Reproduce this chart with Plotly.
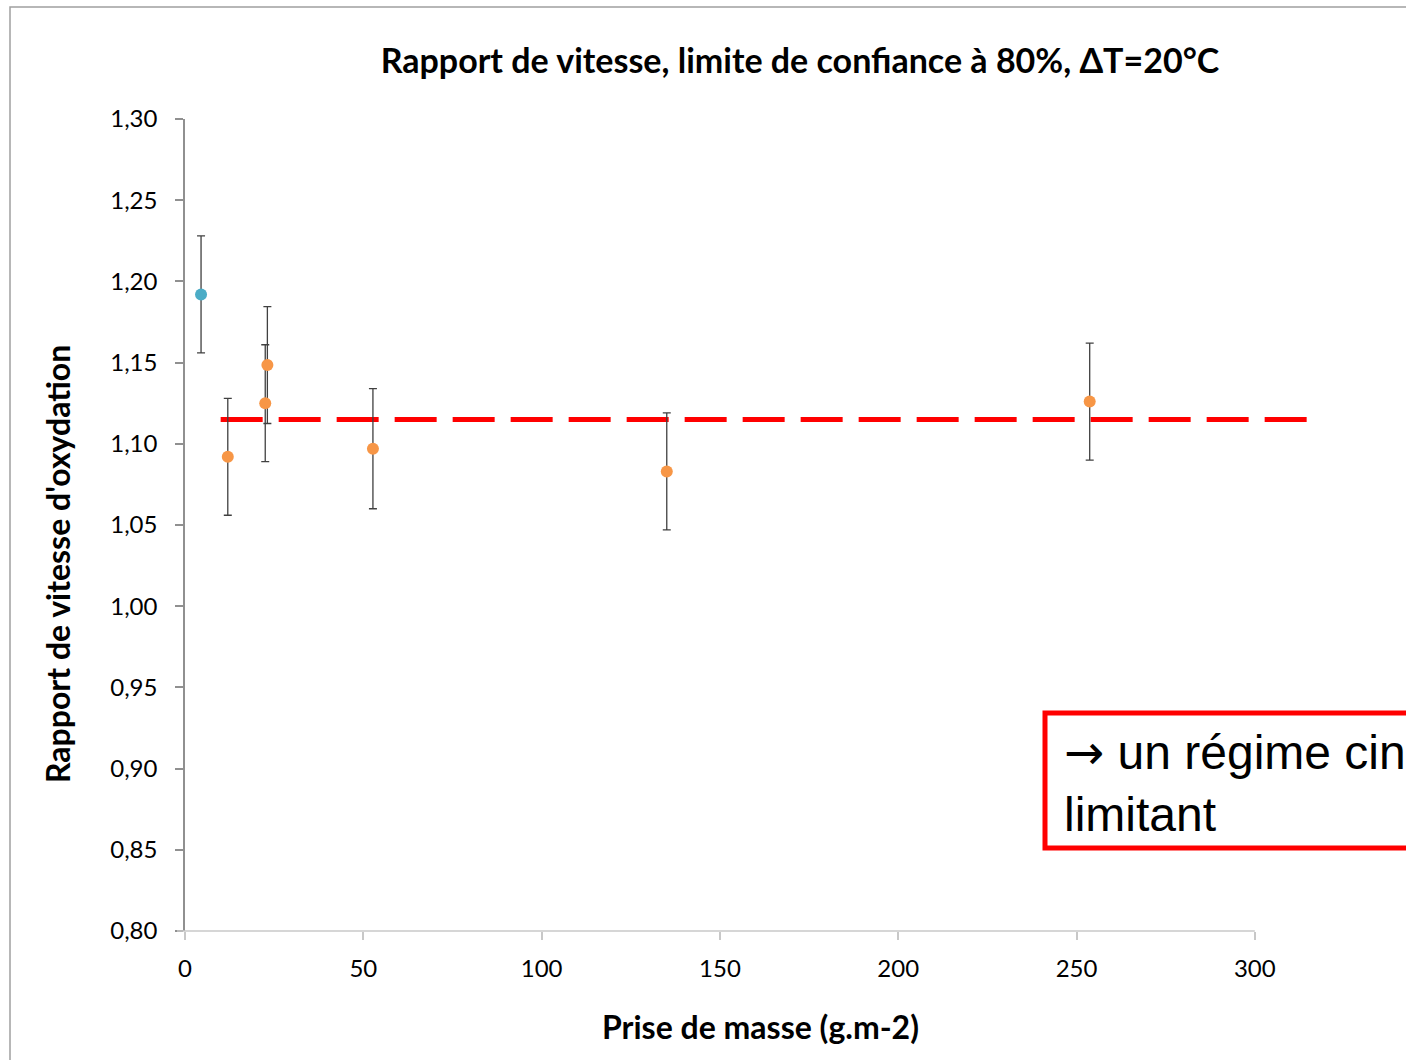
import plotly.graph_objects as go

prise_de_masse = [4.5, 12.0, 23.1, 22.5, 52.7, 135.1, 253.7]
rapport_vitesse = [1.192, 1.092, 1.1485, 1.125, 1.097, 1.083, 1.126]
erreur = [0.036, 0.036, 0.036, 0.036, 0.037, 0.036, 0.036]
couleurs = ['#4BACC6', '#F79646', '#F79646', '#F79646', '#F79646', '#F79646', '#F79646']

moyenne_x = [10.0, 315.4]
moyenne_y = [1.115, 1.115]

x_ticks = [0, 50, 100, 150, 200, 250, 300]
y_ticks = [0.80, 0.85, 0.90, 0.95, 1.00, 1.05, 1.10, 1.15, 1.20, 1.25, 1.30]

W, H = 1406, 1060
L, T = 185, 119
PLOT_BOTTOM = 931
B = H - PLOT_BOTTOM
R = 87
X_MAX = 318
PW, PH = W - L - R, H - T - B
FONT = 'Lato, Calibri, Arial, sans-serif'


def px_x(p):
    # pixel -> paper coordinate
    return (p - L) / PW


def px_y(p):
    return (PLOT_BOTTOM - p) / PH


fig = go.Figure()

fig.add_trace(go.Scatter(
    x=moyenne_x, y=moyenne_y, mode='lines',
    line={'color': '#FF0000', 'width': 5, 'dash': '42px,16px'},
    hoverinfo='skip', showlegend=False,
))

fig.add_trace(go.Scatter(
    x=prise_de_masse, y=rapport_vitesse, mode='markers',
    marker={'color': couleurs, 'size': 12, 'line': {'width': 0}},
    error_y={'type': 'data', 'array': erreur, 'visible': True,
             'color': '#404040', 'thickness': 1.3, 'width': 4},
    showlegend=False,
))

# outer frame of the chart area (runs off the right and bottom edges)
fig.add_shape(type='rect', xref='paper', yref='paper',
              x0=px_x(10), x1=px_x(W + 20), y0=px_y(H + 20), y1=px_y(7),
              line={'color': '#A0A0A0', 'width': 1.5}, layer='below')

# x axis line only up to 300
fig.add_shape(type='line', xref='paper', yref='paper',
              x0=px_x(177), x1=300 / X_MAX, y0=0, y1=0,
              line={'color': '#C8C8C8', 'width': 1.5})

# red box with text
fig.add_shape(type='rect', xref='paper', yref='paper',
              x0=px_x(1045), x1=px_x(W + 40), y0=px_y(848), y1=px_y(713),
              line={'color': '#FF0000', 'width': 5})
fig.add_annotation(xref='paper', yref='paper', x=px_x(1062), y=px_y(782),
                   xanchor='left', yanchor='middle', align='left', showarrow=False,
                   text='<span style="font-family:DejaVu Sans">→</span> un régime cinétique<br>limitant',
                   font={'family': 'Liberation Sans, Arial, sans-serif', 'size': 48, 'color': '#000000'})

fig.add_annotation(xref='paper', yref='paper', x=px_x(57), y=px_y(564),
                   xanchor='center', yanchor='middle',
                   textangle=-90, showarrow=False,
                   text="<b>Rapport de vitesse d'oxydation</b>",
                   font={'family': FONT, 'size': 32, 'color': '#000000'})
fig.add_annotation(xref='paper', yref='paper', x=px_x(760), y=px_y(1026),
                   xanchor='center', yanchor='middle', showarrow=False,
                   text='<b>Prise de masse (g.m-2)</b>',
                   font={'family': FONT, 'size': 32, 'color': '#000000'})

fig.update_layout(
    width=W, height=H,
    margin={'l': L, 'r': R, 't': T, 'b': B},
    paper_bgcolor='white', plot_bgcolor='white',
    separators=', ',
    title={'text': '<b>Rapport de vitesse, limite de confiance à 80%, ΔT=20°C</b>',
           'x': 800 / W, 'xanchor': 'center', 'y': 1 - 61 / H, 'yanchor': 'middle',
           'font': {'family': FONT, 'size': 34, 'color': '#000000'}},
    xaxis={'range': [0, X_MAX], 'tickvals': x_ticks, 'showgrid': False, 'zeroline': False,
           'showline': False, 'ticks': 'outside', 'ticklen': 8, 'tickcolor': '#C8C8C8',
           'tickwidth': 1.5, 'ticklabelstandoff': 8,
           'tickfont': {'family': FONT, 'size': 24, 'color': '#000000'}},
    yaxis={'range': [0.80, 1.30], 'tickvals': y_ticks, 'tickformat': '.2f',
           'showgrid': False, 'zeroline': False,
           'showline': True, 'linecolor': '#909090', 'linewidth': 1.5,
           'ticks': 'outside', 'ticklen': 8, 'tickcolor': '#909090', 'tickwidth': 1.5,
           'ticklabelstandoff': 13,
           'tickfont': {'family': FONT, 'size': 24, 'color': '#000000'}},
)

# drop the default page margin so the figure fills the window exactly
fig.write_html('out.html', config={'displayModeBar': False},
               post_script="document.body.style.margin='0';"
                           "document.documentElement.style.overflow='hidden';")
